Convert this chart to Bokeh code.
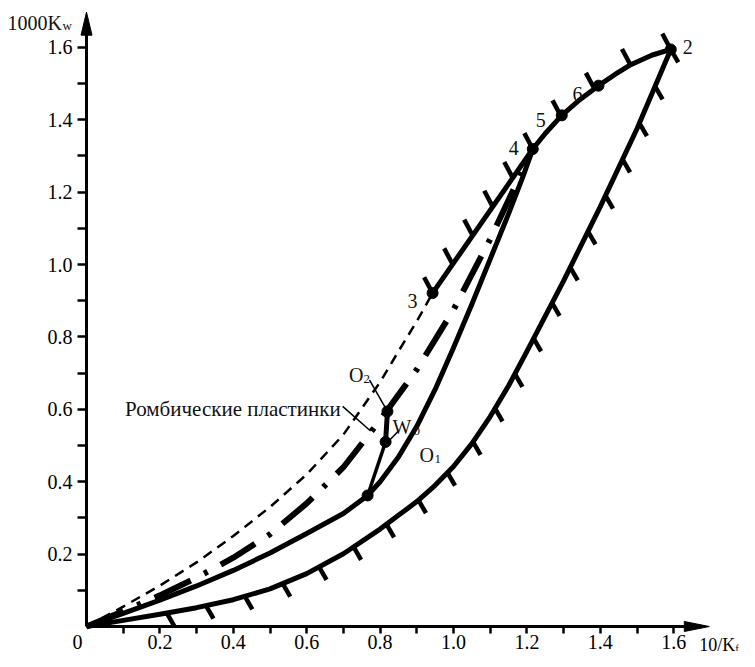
import numpy as np
from bokeh.plotting import figure
from bokeh.models import (Range1d, LinearAxis, FixedTicker, PrintfTickFormatter,
                          CustomJSTickFormatter)
from bokeh.core.properties import value
from bokeh.embed import file_html
from bokeh.resources import INLINE

FONT = "Liberation Serif"

# ---------------- data ----------------
x_label_ticks = [0.2, 0.4, 0.6, 0.8, 1.0, 1.2, 1.4, 1.6]
x_minor_ticks = [0.1, 0.3, 0.5, 0.7, 0.9, 1.1, 1.3, 1.5]
y_label_ticks = [0.2, 0.4, 0.6, 0.8, 1.0, 1.2, 1.4, 1.6]
y_minor_ticks = [0.1, 0.3, 0.5, 0.7, 0.9, 1.1, 1.3, 1.5]
axis_max = 1.697

# lower hatched boundary (origin -> point 2)
lower_x = [0, 0.1, 0.2, 0.3, 0.4, 0.5, 0.6, 0.7, 0.8, 0.85, 0.9, 0.95, 1.0, 1.05,
           1.1, 1.15, 1.2, 1.3, 1.4, 1.5, 1.592]
lower_y = [0, 0.017, 0.034, 0.052, 0.074, 0.104, 0.146, 0.201, 0.269, 0.307, 0.345, 0.39, 0.442, 0.505,
           0.58, 0.665, 0.76, 0.955, 1.16, 1.375, 1.594]

# middle solid curve (origin -> point 4)
middle_x = [0, 0.1, 0.2, 0.3, 0.4, 0.5, 0.6, 0.7, 0.766, 0.8, 0.85, 0.9, 0.95, 1.0,
            1.05, 1.1, 1.15, 1.19, 1.216]
middle_y = [0, 0.036, 0.073, 0.112, 0.155, 0.203, 0.257, 0.312, 0.362, 0.400, 0.468, 0.553, 0.655, 0.77,
            0.89, 1.015, 1.14, 1.245, 1.319]

# dash-dot curve (origin -> point 4)
dashdot_x = [0, 0.1, 0.2, 0.3, 0.4, 0.5, 0.6, 0.7, 0.8, 0.9, 1.0, 1.1, 1.175, 1.216]
dashdot_y = [0, 0.042, 0.086, 0.135, 0.19, 0.255, 0.34, 0.44, 0.57, 0.71, 0.875, 1.07, 1.232, 1.319]

# dashed curve (origin -> point 3)
dashed_x = [0, 0.1, 0.2, 0.3, 0.4, 0.5, 0.6, 0.7, 0.8, 0.85, 0.9, 0.943]
dashed_y = [0, 0.055, 0.113, 0.177, 0.25, 0.33, 0.42, 0.53, 0.675, 0.76, 0.843, 0.921]

# straight hatched line 3 -> 4
line34_x = [0.943, 1.216]
line34_y = [0.921, 1.319]

# upper hatched arc 4 -> 5 -> 6 -> 2
arc_x = [1.216, 1.25, 1.295, 1.345, 1.395, 1.44, 1.483, 1.54, 1.592]
arc_y = [1.319, 1.362, 1.412, 1.456, 1.494, 1.525, 1.552, 1.578, 1.594]

# short branch (lower point -> W0 -> O2)
branch_x = [0.766, 0.815, 0.820]
branch_y = [0.362, 0.510, 0.594]

# marked points: 2, 3, 4, 5, 6, O2, W0, lower point
point_x = [1.592, 0.943, 1.216, 1.295, 1.395, 0.820, 0.815, 0.766]
point_y = [1.594, 0.921, 1.319, 1.412, 1.494, 0.594, 0.510, 0.362]

# leader lines of the annotations
rhomb_leader_x = [0.698, 0.774]
rhomb_leader_y = [0.608, 0.540]
o2_leader_x = [0.771, 0.820]
o2_leader_y = [0.681, 0.594]
w0_leader_x = [0.850, 0.823]
w0_leader_y = [0.540, 0.512]

# ---------------- layout ----------------
SX, SY = 367.0, 362.0   # pixels per data unit
W, H = 739, 651
OX, OY = 86, 626        # canvas position of the origin

p = figure(width=W, height=H,
           x_range=Range1d(-OX / SX, (W - OX) / SX),
           y_range=Range1d(-(H - OY) / SY, OY / SY),
           x_axis_type=None, y_axis_type=None,
           toolbar_location=None, output_backend="svg",
           min_border=0, title=None)
p.outline_line_color = None
p.background_fill_color = "white"
p.border_fill_color = "white"


def style_axis(ax, tick_out, standoff, size="20px"):
    ax.axis_line_color = None
    ax.major_tick_out = tick_out
    ax.major_tick_in = 0
    ax.minor_tick_out = tick_out
    ax.minor_tick_in = 0
    ax.major_tick_line_width = 2.5
    ax.minor_tick_line_width = 2.5
    ax.major_tick_line_color = "black" if tick_out else None
    ax.minor_tick_line_color = "black" if tick_out else None
    ax.major_label_text_font = FONT
    ax.major_label_text_font_size = size
    ax.major_label_text_color = "black"
    ax.major_label_standoff = standoff


xaxis = LinearAxis(fixed_location=0,
                   ticker=FixedTicker(ticks=x_label_ticks, minor_ticks=x_minor_ticks),
                   formatter=PrintfTickFormatter(format="%.1f"))
style_axis(xaxis, 7, 1)
p.add_layout(xaxis, "below")

yaxis = LinearAxis(fixed_location=0,
                   ticker=FixedTicker(ticks=y_label_ticks, minor_ticks=y_minor_ticks),
                   formatter=PrintfTickFormatter(format="%.1f"))
style_axis(yaxis, 9, 5)
p.add_layout(yaxis, "left")

# "0" at the origin and the "10/K" axis title, set on the same baseline as the tick labels
zero_axis = LinearAxis(fixed_location=0,
                       ticker=FixedTicker(ticks=[-9 / SX]),
                       formatter=CustomJSTickFormatter(code="return '0'"))
style_axis(zero_axis, 0, 8)
p.add_layout(zero_axis, "below")

title_axis = LinearAxis(fixed_location=0,
                        ticker=FixedTicker(ticks=[axis_max + 8 / SX]),
                        formatter=CustomJSTickFormatter(code="return '10/K'"))
style_axis(title_axis, 0, 8, size="18px")
p.add_layout(title_axis, "below")

# axis lines with arrow heads
hx_len, hx_half = 25 / SX, 5.0 / SY
hy_len, hy_half = 23 / SY, 5.5 / SX
p.line([0, axis_max - hx_len * 0.5], [0, 0], line_width=3, color="black")
p.line([0, 0], [0, axis_max - hy_len * 0.5], line_width=3, color="black")
p.patch([axis_max, axis_max - hx_len, axis_max - hx_len], [0, hx_half, -hx_half], color="black")
p.patch([0, hy_half, -hy_half], [axis_max, axis_max - hy_len, axis_max - hy_len], color="black")


# ---------------- hatches ----------------
def arc_param(xs, ys):
    xs = np.asarray(xs, float)
    ys = np.asarray(ys, float)
    s = np.concatenate([[0.0], np.cumsum(np.hypot(np.diff(xs) * SX, np.diff(ys) * SY))])
    return xs, ys, s


def hatch_segments(xs, ys, pos_px, angle_deg, length_px):
    xs, ys, s = arc_param(xs, ys)
    bx = np.interp(pos_px, s, xs)
    by = np.interp(pos_px, s, ys)
    a = np.radians(angle_deg)
    return bx, by, bx + np.cos(a) * length_px / SX, by + np.sin(a) * length_px / SY


# lower boundary: hatches pointing down-right, every ~40 px from point 2 backwards
_, _, s_low = arc_param(lower_x, lower_y)
L_low = s_low[-1]
pos_low = L_low - 40.0 * np.arange(int((L_low - 78) // 40) + 1)
hx0, hy0, hx1, hy1 = hatch_segments(lower_x, lower_y, pos_low, -60, 15)
p.segment(hx0, hy0, hx1, hy1, line_width=4.5, color="black")

# line 3-4: hatches pointing up-left
_, _, s34 = arc_param(line34_x, line34_y)
pos34 = np.linspace(0, s34[-1], 6)[:-1]
hx0, hy0, hx1, hy1 = hatch_segments(line34_x, line34_y, pos34, 118, 18)
p.segment(hx0, hy0, hx1, hy1, line_width=4.5, color="black")

# arc 4-2: hatches pointing up-left
_, _, s_arc = arc_param(arc_x, arc_y)
pos_arc = np.linspace(0, s_arc[-1], 5)
hx0, hy0, hx1, hy1 = hatch_segments(arc_x, arc_y, pos_arc, 118, 18)
p.segment(hx0, hy0, hx1, hy1, line_width=4.5, color="black")

# ---------------- curves ----------------
p.line(lower_x, lower_y, line_width=5, color="black", line_join="round")
p.line(middle_x, middle_y, line_width=5, color="black", line_join="round")
p.line(dashdot_x, dashdot_y, line_width=6, color="black", line_dash="40 15 4 15")
p.line(dashed_x, dashed_y, line_width=2.5, color="black", line_dash="10 7")
p.line(line34_x, line34_y, line_width=5, color="black")
p.line(arc_x, arc_y, line_width=5, color="black", line_join="round")
p.line(branch_x[:2], branch_y[:2], line_width=3.5, color="black")
p.line(branch_x[1:], branch_y[1:], line_width=5, color="black")

# leaders
p.line(rhomb_leader_x, rhomb_leader_y, line_width=1.5, color="black")
p.line(o2_leader_x, o2_leader_y, line_width=1.5, color="black")
p.line(w0_leader_x, w0_leader_y, line_width=1.5, color="black")

# points
p.scatter(point_x, point_y, size=11, color="black")


# ---------------- texts ----------------
def txt(x, y, t, xo, yo, size="20px", align="left", baseline="alphabetic"):
    p.text(x=[x], y=[y], text=[t], x_offset=xo, y_offset=yo,
           text_font=value(FONT), text_font_size=size, text_color="#111111",
           text_align=align, text_baseline=baseline)


# axis title subscripts
txt(0, axis_max, "1000K", -79, 11)
txt(0, axis_max, "w", -24, 13, size="13px")
txt(axis_max, 0, "f", 26, 21, size="11px")

# point numbers
txt(point_x[0], point_y[0], "2", 12, -2)
txt(point_x[1], point_y[1], "3", -20, 8, align="center")
txt(point_x[2], point_y[2], "4", -19, -1, align="center")
txt(point_x[3], point_y[3], "5", -21, 5, align="center")
txt(point_x[4], point_y[4], "6", -21, 8, align="center")

# O2, W0, O1
txt(o2_leader_x[0], o2_leader_y[0], "O", -6, -5, align="right")
txt(o2_leader_x[0], o2_leader_y[0], "2", -6, -1, size="13px")
txt(point_x[6], point_y[6], "W", 7, -15)
txt(point_x[6], point_y[6], "0", 28, -11, size="13px")
txt(point_x[7], point_y[7], "O", 52, -40)
txt(point_x[7], point_y[7], "1", 67, -36, size="13px")

# rhombic plates label
txt(rhomb_leader_x[0], rhomb_leader_y[0], "Ромбические пластинки", -2, 3, size="21px", align="right")

open("out.html", "w").write(file_html(p, INLINE))
